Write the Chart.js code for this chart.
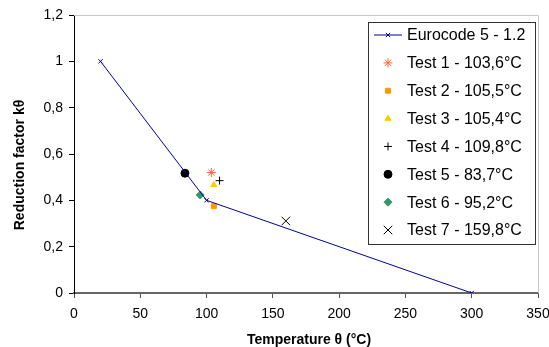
<!DOCTYPE html>
<html lang="en">
<head>
  <meta charset="UTF-8"/>
  <title>Reduction factor vs temperature</title>
  <script src="https://cdn.jsdelivr.net/npm/chart.js"></script>
  <style>
    html, body { margin: 0; padding: 0; background: #ffffff; }
    .chart-box { position: relative; width: 549px; height: 347px; }
  </style>
</head>
<body>
<div class="chart-box">
  <canvas id="kChart" width="549" height="347"></canvas>
</div>

<script>
// Eurocode 5 curve
const ecTemp = [20, 100, 300];
const ecFactor = [1, 0.4, 0];

// test results
const testLabels = ['Test 1 - 103,6°C', 'Test 2 - 105,5°C', 'Test 3 - 105,4°C', 'Test 4 - 109,8°C',
                    'Test 5 - 83,7°C', 'Test 6 - 95,2°C', 'Test 7 - 159,8°C'];
const testTemp = [103.6, 105.5, 105.4, 109.8, 83.7, 95.2, 159.8];
const testFactor = [0.52, 0.375, 0.467, 0.485, 0.517, 0.423, 0.311];

const xTicks = [0, 50, 100, 150, 200, 250, 300, 350];
const yTicks = [0, 0.2, 0.4, 0.6, 0.8, 1, 1.2];

const xTitle = 'Temperature θ (°C)';
const yTitle = 'Reduction factor kθ';

const testStyles = [
  { pointStyle: 'star', color: '#ff6633', radius: 4.5 },
  { pointStyle: 'rect', color: '#ff9900', radius: 3.5 },
  { pointStyle: 'triangle', color: '#ffcc00', radius: 3.5 },
  { pointStyle: 'cross', color: '#000000', radius: 4 },
  { pointStyle: 'circle', color: '#000000', radius: 4 },
  { pointStyle: 'rectRot', color: '#339966', radius: 4 },
  { pointStyle: 'crossRot', color: '#000000', radius: 6 }
];

const datasets = [{
  label: 'Eurocode 5 - 1.2',
  data: ecTemp.map((t, i) => ({ x: t, y: ecFactor[i] })),
  showLine: true,
  borderColor: '#000099',
  borderWidth: 1,
  pointStyle: 'crossRot',
  pointRadius: 3,
  pointBorderColor: '#000099',
  pointBackgroundColor: '#000099',
  pointBorderWidth: 1
}];

testLabels.forEach((lbl, i) => {
  const s = testStyles[i];
  datasets.push({
    label: lbl,
    data: [{ x: testTemp[i], y: testFactor[i] }],
    showLine: false,
    pointStyle: s.pointStyle,
    pointRadius: s.radius,
    pointBorderColor: s.color,
    pointBackgroundColor: s.color,
    pointBorderWidth: 1
  });
});

const fmt = v => String(Math.round(v * 10) / 10).replace('.', ',');

// plot frame, axis titles and a legend box drawn inside the plot
const extras = {
  id: 'extras',
  beforeDatasetsDraw(chart) {
    const ctx = chart.ctx;
    const a = chart.chartArea;
    ctx.save();
    ctx.strokeStyle = '#c8c8c8';
    ctx.lineWidth = 1;
    ctx.beginPath();
    ctx.moveTo(a.left, a.top + 0.5);
    ctx.lineTo(a.right + 0.5, a.top + 0.5);
    ctx.lineTo(a.right + 0.5, a.bottom);
    ctx.stroke();
    ctx.restore();
  },
  afterDraw(chart) {
    const ctx = chart.ctx;
    const a = chart.chartArea;
    ctx.save();

    // axis titles
    ctx.fillStyle = '#000000';
    ctx.font = 'bold 14px "Liberation Sans", Arial, sans-serif';
    ctx.textAlign = 'center';
    ctx.textBaseline = 'middle';
    ctx.fillText(xTitle, (a.left + a.right) / 2 + 3, 340);
    ctx.save();
    ctx.translate(20, 165);
    ctx.rotate(-Math.PI / 2);
    ctx.fillText(yTitle, 0, 0);
    ctx.restore();

    // legend
    const left = 368, top = 22, w = 167, h = 222;
    ctx.fillStyle = '#ffffff';
    ctx.fillRect(left, top, w, h);
    ctx.strokeStyle = '#333333';
    ctx.lineWidth = 1;
    ctx.strokeRect(left + 0.5, top + 0.5, w, h);
    ctx.font = '16px "Liberation Sans", Arial, sans-serif';
    ctx.textAlign = 'left';
    chart.data.datasets.forEach((ds, i) => {
      const y = 35 + i * 27.86;
      const mx = 388;
      if (ds.showLine) {
        ctx.strokeStyle = ds.borderColor;
        ctx.lineWidth = 1;
        ctx.beginPath();
        ctx.moveTo(374, y);
        ctx.lineTo(402, y);
        ctx.stroke();
      }
      ctx.strokeStyle = ds.pointBorderColor;
      ctx.fillStyle = ds.pointBackgroundColor;
      ctx.lineWidth = ds.pointBorderWidth;
      Chart.helpers.drawPoint(ctx, {
        pointStyle: ds.pointStyle,
        radius: ds.pointRadius,
        rotation: 0,
        borderWidth: ds.pointBorderWidth
      }, mx, y);
      ctx.fillStyle = '#000000';
      ctx.fillText(ds.label, 407, y + 1);
    });
    ctx.restore();
  }
};

new Chart(document.getElementById('kChart'), {
  type: 'scatter',
  data: { datasets: datasets },
  plugins: [extras],
  options: {
    responsive: false,
    animation: false,
    layout: { padding: { top: 15, right: 11, left: 0, bottom: 0 } },
    plugins: {
      legend: { display: false },
      tooltip: { enabled: false }
    },
    scales: {
      x: {
        type: 'linear',
        min: 0, max: 350,
        afterFit(s) { s.height = 54; s.paddingRight = 0; s.paddingLeft = 0; },
        afterBuildTicks(s) { s.ticks = xTicks.map(v => ({ value: v })); },
        ticks: { color: '#000', font: { family: 'Liberation Sans', size: 14 }, padding: 8, maxRotation: 0 },
        grid: { drawOnChartArea: false, drawTicks: true, tickLength: 5, color: '#555' },
        border: { color: '#666', width: 2 }
      },
      y: {
        min: 0, max: 1.2,
        afterFit(s) { s.width = 74; s.paddingTop = 0; s.paddingBottom = 0; },
        afterBuildTicks(s) { s.ticks = yTicks.map(v => ({ value: v })); },
        ticks: { color: '#000', font: { family: 'Liberation Sans', size: 14 }, padding: 6, callback: v => fmt(v) },
        grid: { drawOnChartArea: false, drawTicks: true, tickLength: 5, color: '#000' },
        border: { color: '#000', width: 1 }
      }
    }
  }
});
</script>
</body>
</html>
